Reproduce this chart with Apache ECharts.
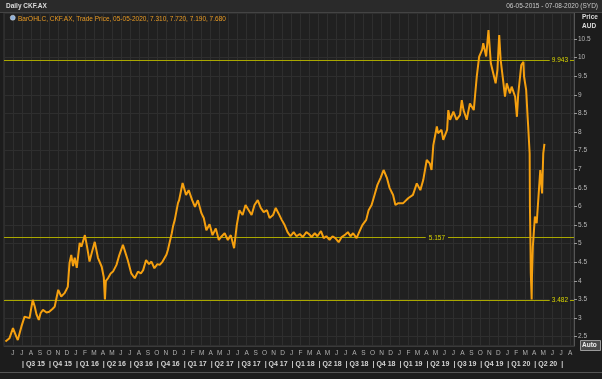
<!DOCTYPE html>
<html><head><meta charset="utf-8">
<script src="https://cdn.jsdelivr.net/npm/echarts@6/dist/echarts.min.js"></script>
<style>html,body{margin:0;padding:0;background:#1c1c1c}#c{width:602px;height:379px}</style>
</head><body><div id="c"></div>
<script>
// ---- data ----
const dates = [
'2015-05-06','2015-05-20','2015-06-01','2015-06-12','2015-06-17','2015-06-29','2015-07-10','2015-07-27','2015-08-07','2015-08-14',
'2015-08-20','2015-08-28','2015-09-03','2015-09-11','2015-09-23','2015-10-02','2015-10-14','2015-10-21','2015-11-02','2015-11-12',
'2015-11-23','2015-12-04','2015-12-10','2015-12-16','2015-12-22','2015-12-28','2016-01-04','2016-01-14','2016-01-20','2016-02-01',
'2016-02-08','2016-02-16','2016-02-23','2016-03-04','2016-03-15','2016-03-28','2016-04-04','2016-04-08','2016-04-11','2016-04-18',
'2016-04-27','2016-05-05','2016-05-17','2016-05-27','2016-06-08','2016-06-17','2016-06-24','2016-07-06','2016-07-18','2016-07-29',
'2016-08-08','2016-08-16','2016-08-26','2016-09-05','2016-09-13','2016-09-23','2016-10-03','2016-10-11','2016-10-21','2016-11-03',
'2016-11-08','2016-11-21','2016-11-25','2016-12-01','2016-12-12','2016-12-16',
'2016-12-28','2017-01-09','2017-01-18','2017-01-30','2017-02-08','2017-02-17','2017-02-28','2017-03-08','2017-03-17','2017-03-28',
'2017-04-07','2017-04-18','2017-04-28','2017-05-08','2017-05-18','2017-05-29','2017-06-08','2017-06-19','2017-06-28','2017-07-07',
'2017-07-18','2017-07-28','2017-08-08','2017-08-18','2017-08-28','2017-09-08','2017-09-18','2017-09-28','2017-10-09','2017-10-18',
'2017-10-30','2017-11-08','2017-11-17','2017-11-28','2017-12-08','2017-12-18','2017-12-28','2018-01-08','2018-01-18','2018-01-29',
'2018-02-08','2018-02-19','2018-02-27','2018-03-08','2018-03-19','2018-03-28','2018-04-09','2018-04-18','2018-04-27','2018-05-08',
'2018-05-18','2018-05-28','2018-06-08','2018-06-18','2018-06-28','2018-07-09','2018-07-18','2018-07-27','2018-08-08','2018-08-17',
'2018-08-28','2018-09-10','2018-09-18','2018-09-28','2018-10-08','2018-10-18','2018-10-29','2018-11-08','2018-11-19','2018-11-28',
'2018-12-10','2018-12-18','2018-12-28',
'2019-01-03','2019-01-14','2019-01-31','2019-02-15','2019-02-27','2019-03-11','2019-03-21','2019-04-02','2019-04-12','2019-04-18',
'2019-04-24','2019-05-06','2019-05-10','2019-05-22','2019-05-28','2019-06-10','2019-06-14','2019-06-20','2019-07-01','2019-07-12',
'2019-07-24','2019-07-30','2019-08-05','2019-08-16','2019-08-27','2019-09-09','2019-09-13','2019-09-19','2019-09-27','2019-10-07',
'2019-10-11','2019-10-21','2019-10-29','2019-11-06','2019-11-14','2019-11-22','2019-11-28','2019-12-04','2019-12-09','2019-12-16',
'2019-12-24','2019-12-30','2020-01-10','2020-01-16','2020-01-28','2020-02-03','2020-02-07','2020-02-17','2020-02-24','2020-02-26',
'2020-03-04','2020-03-09','2020-03-11','2020-03-16','2020-03-17','2020-03-19','2020-03-20','2020-03-23','2020-03-24','2020-03-27',
'2020-04-03','2020-04-09','2020-04-15','2020-04-21','2020-04-27','2020-05-01','2020-05-05'
];
const prices = [
2.37,2.46,2.73,2.50,2.41,2.77,3.04,3.00,3.49,3.31,
3.10,2.95,3.13,3.22,3.15,3.17,3.25,3.31,3.76,3.58,
3.67,3.84,4.48,4.70,4.40,4.62,4.35,5.02,4.92,5.23,
4.92,4.52,4.75,5.05,4.62,4.38,4.10,3.50,4.00,4.07,
4.20,4.25,4.43,4.70,4.97,4.74,4.56,4.20,4.07,4.25,
4.20,4.29,4.56,4.45,4.52,4.34,4.45,4.43,4.52,4.70,
4.83,5.28,5.46,5.64,6.09,6.17,
6.63,6.31,6.44,6.17,5.99,6.17,5.82,5.69,5.36,5.52,
5.23,5.41,5.10,5.20,5.28,5.10,5.23,4.88,5.50,5.90,
5.77,6.04,5.90,5.77,6.04,6.17,5.96,5.85,5.90,5.69,
5.77,5.96,5.82,5.64,5.50,5.31,5.20,5.31,5.20,5.26,
5.18,5.31,5.26,5.18,5.28,5.20,5.34,5.15,5.20,5.10,
5.20,5.15,5.04,5.18,5.23,5.31,5.20,5.28,5.15,5.31,
5.50,5.64,5.90,6.04,6.31,6.58,6.77,6.98,6.77,6.50,
6.31,6.04,6.09,
6.13,6.09,6.22,6.31,6.62,6.44,6.71,7.25,7.16,6.98,
7.65,8.15,7.97,8.06,7.79,8.06,8.59,8.33,8.55,8.33,
8.46,8.86,8.59,8.33,8.77,8.59,8.95,9.49,10.03,10.21,
10.39,10.03,10.74,9.85,9.58,9.31,9.67,10.61,9.94,9.49,
8.95,9.31,9.04,9.22,8.95,8.41,9.00,9.80,9.89,9.49,
9.13,8.41,8.15,7.43,5.99,4.92,4.20,3.50,4.10,4.92,
5.73,5.55,6.26,6.98,6.35,7.43,7.68
];
const levelValues = [9.943, 5.157, 3.482];
const levelLabels = ['9.943', '5.157', '3.482'];
const lastPrice = 7.68;
const lastPriceLabel = '7.680';
const yTickValues = [2.5,3,3.5,4,4.5,5,5.5,6,6.5,7,7.5,8,8.5,9,9.5,10,10.5];
const monthLetters = ['J','F','M','A','M','J','J','A','S','O','N','D'];
const quarterStarts = ['2015-07-01','2015-10-01','2016-01-01','2016-04-01','2016-07-01','2016-10-01','2017-01-01','2017-04-01',
'2017-07-01','2017-10-01','2018-01-01','2018-04-01','2018-07-01','2018-10-01','2019-01-01','2019-04-01','2019-07-01','2019-10-01',
'2020-01-01','2020-04-01','2020-07-01'];
const quarterLabels = ['| Q3 15','| Q4 15','| Q1 16','| Q2 16','| Q3 16','| Q4 16','| Q1 17','| Q2 17','| Q3 17','| Q4 17',
'| Q1 18','| Q2 18','| Q3 18','| Q4 18','| Q1 19','| Q2 19','| Q3 19','| Q4 19','| Q1 20','| Q2 20','|'];
const rangeStart = '2015-05-01';
const rangeEnd = '2020-08-14';

// ---- helpers ----
function monthIndex(s) {
  const p = s.split('-').map(Number);
  const dim = new Date(p[0], p[1], 0).getDate();
  return (p[0] - 2015) * 12 + (p[1] - 1) + ((p[2] || 1) - 1) / dim;
}
const seriesData = dates.map((d, i) => [monthIndex(d), prices[i]]);
const qVals = quarterStarts.map(monthIndex);
const qMap = {};
qVals.forEach((v, i) => { qMap[Math.round(v)] = quarterLabels[i]; });

const FONT = 'Liberation Sans';
const plotBg = '#202020';
const gridCol = '#2e2e2e';
const lvlCol = '#aaa800';

const chart = echarts.init(document.getElementById('c'), null, {renderer: 'canvas'});
chart.setOption({
  animation: false,
  backgroundColor: '#1c1c1c',
  grid: {left: 4, right: 28, top: 13, bottom: 33, show: true, backgroundColor: plotBg, borderColor: '#3a3a3a', borderWidth: 1},
  xAxis: [{
    type: 'value', min: monthIndex(rangeStart), max: monthIndex(rangeEnd), interval: 1,
    axisLine: {show: true, lineStyle: {color: '#3a3a3a'}},
    axisTick: {show: false},
    splitLine: {show: true, lineStyle: {color: gridCol, width: 1}},
    axisLabel: {show: true, showMinLabel: false, margin: 4, color: '#b0b0b0', fontFamily: FONT, fontSize: 6.5,
      formatter: v => monthLetters[((Math.round(v) % 12) + 12) % 12]}
  }, {
    type: 'value', min: monthIndex(rangeStart), max: monthIndex(rangeEnd), position: 'bottom', offset: 11,
    axisLine: {show: false}, axisTick: {show: false}, splitLine: {show: false},
    axisLabel: {show: true, customValues: qVals, margin: 4, align: 'left', color: '#d4d4d4', fontWeight: 'bold',
      fontFamily: FONT, fontSize: 7, formatter: v => qMap[Math.round(v)] || ''}
  }],
  yAxis: {
    type: 'value', position: 'right', min: 2.25, max: 11.2,
    axisLine: {show: true, lineStyle: {color: '#555'}},
    axisTick: {show: true, customValues: yTickValues, length: 3, lineStyle: {color: '#999'}},
    splitLine: {show: true, lineStyle: {color: gridCol, width: 1}},
    axisLabel: {show: true, customValues: yTickValues, margin: 4, color: '#b8b8b8', fontFamily: FONT, fontSize: 6.5,
      formatter: v => String(v)}
  },
  series: [{
    type: 'line', xAxisIndex: 0, yAxisIndex: 0, data: seriesData, showSymbol: false, symbol: 'none',
    lineStyle: {color: '#f5a00f', width: 2}, z: 5,
    markLine: {
      silent: true, symbol: ['none', 'none'], animation: false,
      lineStyle: {color: lvlCol, width: 1, type: 'solid'},
      data: [
        {yAxis: levelValues[0], label: {show: true, formatter: levelLabels[0], position: 'insideEndTop', distance: [4, 0], verticalAlign: 'middle',
          color: '#d8d400', fontFamily: FONT, fontSize: 6.5, backgroundColor: plotBg, padding: [1, 2]}},
        {yAxis: levelValues[1], label: {show: true, formatter: levelLabels[1], position: 'insideEndTop', distance: [126, 0], verticalAlign: 'middle',
          color: '#d8d400', fontFamily: FONT, fontSize: 6.5, backgroundColor: plotBg, padding: [1, 3]}},
        {yAxis: levelValues[2], label: {show: true, formatter: levelLabels[2], position: 'insideEndTop', distance: [4, 0], verticalAlign: 'middle',
          color: '#d8d400', fontFamily: FONT, fontSize: 6.5, backgroundColor: plotBg, padding: [1, 2]}},
        {yAxis: lastPrice, lineStyle: {opacity: 0, width: 0}, label: {show: true, formatter: lastPriceLabel, position: 'end', distance: 1,
          color: '#111', fontFamily: FONT, fontSize: 6.5, backgroundColor: '#f5a000', padding: [2, 2, 1, 2], width: 22}}
      ]
    }
  }],
  graphic: [
    {type: 'rect', left: 0, top: 0, shape: {width: 602, height: 12}, style: {fill: '#2a2a2a'}, z: 10},
    {type: 'rect', left: 0, top: 12, shape: {width: 602, height: 1}, style: {fill: '#444'}, z: 10},
    {type: 'text', left: 6, top: 3, style: {text: 'Daily CKF.AX', fill: '#dcdcdc', font: 'bold 6.5px "Liberation Sans"'}, z: 11},
    {type: 'text', right: 4, top: 3, style: {text: '06-05-2015 - 07-08-2020 (SYD)', fill: '#c8c8c8', font: '6.5px "Liberation Sans"'}, z: 11},
    {type: 'circle', left: 10, top: 15, shape: {r: 2.5}, style: {fill: '#8fb0d8', stroke: '#ddd', lineWidth: 0.5}, z: 11},
    {type: 'text', left: 18, top: 16, style: {text: 'BarOHLC, CKF.AX, Trade Price, 05-05-2020, 7.310, 7.720, 7.190, 7.680', fill: '#e89a24', font: '6.5px "Liberation Sans"'}, z: 11},
    {type: 'text', left: 582, top: 14, style: {text: 'Price', fill: '#dcdcdc', font: 'bold 6.5px "Liberation Sans"'}, z: 11},
    {type: 'text', left: 582, top: 23, style: {text: 'AUD', fill: '#dcdcdc', font: 'bold 6.5px "Liberation Sans"'}, z: 11},
    {type: 'rect', left: 580, top: 340, shape: {width: 20, height: 10}, style: {fill: '#4a4a4a', stroke: '#9a9a9a', lineWidth: 1}, z: 11},
    {type: 'text', left: 582, top: 342, style: {text: 'Auto', fill: '#eee', font: 'bold 6.5px "Liberation Sans"'}, z: 12},
    {type: 'rect', left: 0, top: 372, shape: {width: 602, height: 1}, style: {fill: '#555'}, z: 10}
  ]
});
</script></body></html>
